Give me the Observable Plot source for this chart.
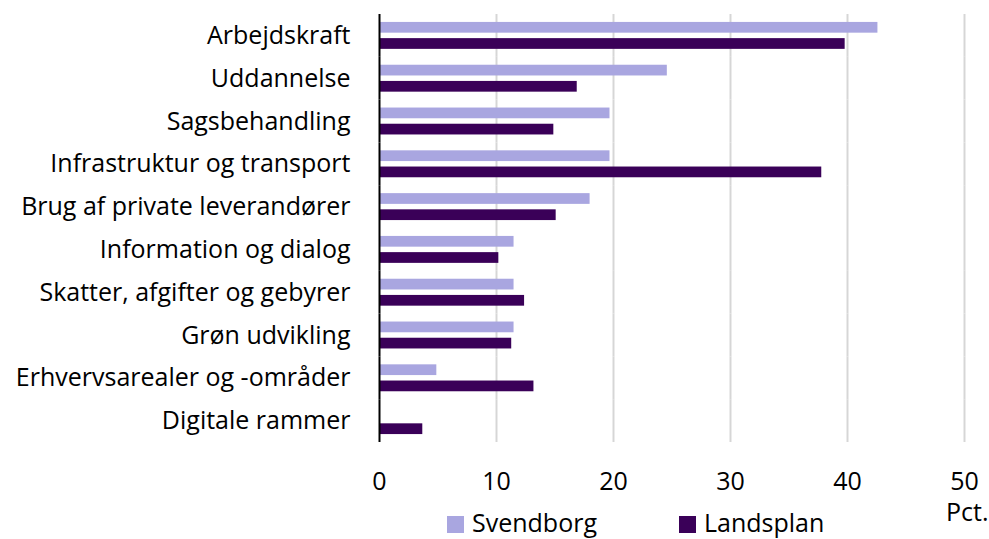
<!DOCTYPE html>
<html>
<head>
<meta charset="utf-8">
<script src="https://cdn.jsdelivr.net/npm/d3@7"></script>
<script src="https://cdn.jsdelivr.net/npm/@observablehq/plot@0.6"></script>
<style>
  html, body { margin: 0; padding: 0; background: #fff; }
  #wrap { position: relative; width: 989px; height: 539px; overflow: hidden; font-family: "Open Sans", sans-serif; }
  #legend { position: absolute; left: 0; top: 506px; width: 989px; height: 32px; }
  .sw { position: absolute; top: 10px; width: 17px; height: 17px; }
  .lt { position: absolute; top: 0px; font-size: 25px; line-height: 32px; color: #000; }
</style>
</head>
<body>
<div id="wrap"></div>
<script>
const categories = [
  "Arbejdskraft",
  "Uddannelse",
  "Sagsbehandling",
  "Infrastruktur og transport",
  "Brug af private leverandører",
  "Information og dialog",
  "Skatter, afgifter og gebyrer",
  "Grøn udvikling",
  "Erhvervsarealer og -områder",
  "Digitale rammer"
];
const seriesNames = ["Svendborg", "Landsplan"];
const seriesColors = ["#a9a6e0", "#3a0058"];
const svendborg = [42.6, 24.6, 19.7, 19.7, 18.0, 11.5, 11.5, 11.5, 4.9, 0];
const landsplan = [39.8, 16.9, 14.9, 37.8, 15.1, 10.2, 12.4, 11.3, 13.2, 3.7];
const xTicks = [0, 10, 20, 30, 40, 50];
const unitLabel = "Pct.";

const data = [];
categories.forEach((c, i) => {
  data.push({category: c, series: seriesNames[0], value: svendborg[i]});
  data.push({category: c, series: seriesNames[1], value: landsplan[i]});
});

const chart = Plot.plot({
  width: 989,
  height: 539,
  marginLeft: 379,
  marginRight: 25,
  marginTop: 14,
  marginBottom: 97,
  style: {fontFamily: "'Open Sans', sans-serif", fontSize: "25px", color: "#000", background: "transparent", overflow: "visible"},
  x: {domain: [0, 50], ticks: xTicks, label: null},
  y: {domain: seriesNames, paddingInner: 0.337, paddingOuter: 0.49, round: false, axis: null},
  fy: {domain: categories, padding: 0, round: false, label: null},
  color: {domain: seriesNames, range: seriesColors},
  marks: [
    Plot.gridX(xTicks.filter(d => d > 0), {stroke: "#d6d6d6", strokeWidth: 2, strokeOpacity: 1}),
    Plot.barX(data, {x: "value", y: "series", fy: "category", fill: "series"}),
    Plot.ruleX([0], {stroke: "#000", strokeWidth: 2}),
    Plot.axisX(xTicks, {tickSize: 0, tickPadding: 30, fontSize: 25, fill: "#000", label: null, facetAnchor: "bottom"}),
    Plot.axisFy({tickSize: 0, tickPadding: 29, fontSize: 25, fill: "#000", label: null, anchor: "left"}),
    Plot.text([unitLabel], {frameAnchor: "bottom-right", textAnchor: "end", lineAnchor: "top", dx: 24, dy: 61, fontSize: 25, fill: "#000", facet: "super"})
  ]
});

const wrap = document.getElementById("wrap");
wrap.appendChild(chart);

const legend = document.createElement("div");
legend.id = "legend";
const swX = [447, 679];
const txX = [472, 704];
seriesNames.forEach((s, i) => {
  const sw = document.createElement("div");
  sw.className = "sw";
  sw.style.left = swX[i] + "px";
  sw.style.background = seriesColors[i];
  const t = document.createElement("div");
  t.className = "lt";
  t.style.left = txX[i] + "px";
  t.textContent = s;
  legend.appendChild(sw);
  legend.appendChild(t);
});
wrap.appendChild(legend);
</script>
</body>
</html>
